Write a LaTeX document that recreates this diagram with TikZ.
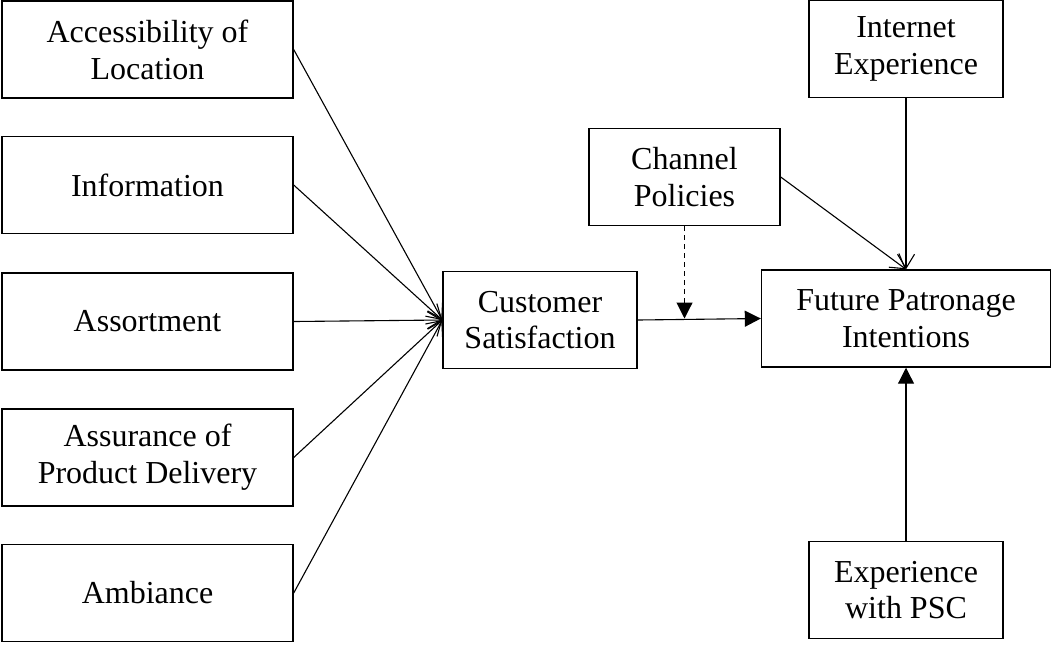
\documentclass[tikz,border=0pt]{standalone}
\usepackage{fontspec}
\setmainfont{Liberation Serif}
\usetikzlibrary{arrows.meta}

\begin{document}
\begin{tikzpicture}[x=0.5pt, y=-0.5pt,
    box/.style={draw, line width=0.7pt, inner sep=0pt, align=center,
        minimum height=48.5pt, font=\fontsize{16}{18.4}\selectfont},
    openarrow/.style={line width=0.55pt, -{Straight Barb[length=7pt, width=8.5pt]}},
    filledarrow/.style={line width=0.55pt, -{Triangle[length=8pt, width=8pt]}}]
    \useasboundingbox (0,0) rectangle (1052,644);

    % Service attributes
    \node[box, minimum width=145.5pt] (acc) at (147.5,49.5) {Accessibility of\\Location};
    \node[box, minimum width=145.5pt] (info) at (147.5,185) {Information};
    \node[box, minimum width=145.5pt] (assort) at (147.5,321.5) {Assortment};
    \node[box, minimum width=145.5pt] (assur) at (147.5,457.5) {Assurance of\\Product Delivery};
    \node[box, minimum width=145.5pt] (amb) at (147.5,593) {Ambiance};

    % Satisfaction and outcome
    \node[box, minimum width=97pt] (cs) at (540,320) {Customer\\Satisfaction};
    \node[box, minimum width=144.5pt] (fpi) at (906,318.5) {Future Patronage\\Intentions};

    % Moderators
    \node[box, minimum width=95.5pt] (chan) at (684.5,177) {Channel\\Policies};
    \node[box, minimum width=97pt] (inet) at (906,49) {Internet\\Experience};
    \node[box, minimum width=97pt] (psc) at (906,590) {Experience\\with PSC};

    % Connectors
    \draw[openarrow] (acc.east) -- (cs.west);
    \draw[openarrow] (info.east) -- (cs.west);
    \draw[openarrow] (assort.east) -- (cs.west);
    \draw[openarrow] (assur.east) -- (cs.west);
    \draw[openarrow] (amb.east) -- (cs.west);
    \draw[filledarrow] (cs.east) -- (fpi.west);
    \coordinate (mod) at (chan.south |- fpi.west);
    \draw[filledarrow, dash pattern=on 2.5pt off 2pt] (chan.south) -- (mod);
    \draw[openarrow] (chan.east) -- (fpi.north);
    \draw[openarrow] (inet.south) -- (fpi.north);
    \draw[filledarrow] (psc.north) -- (fpi.south);
\end{tikzpicture}
\end{document}
